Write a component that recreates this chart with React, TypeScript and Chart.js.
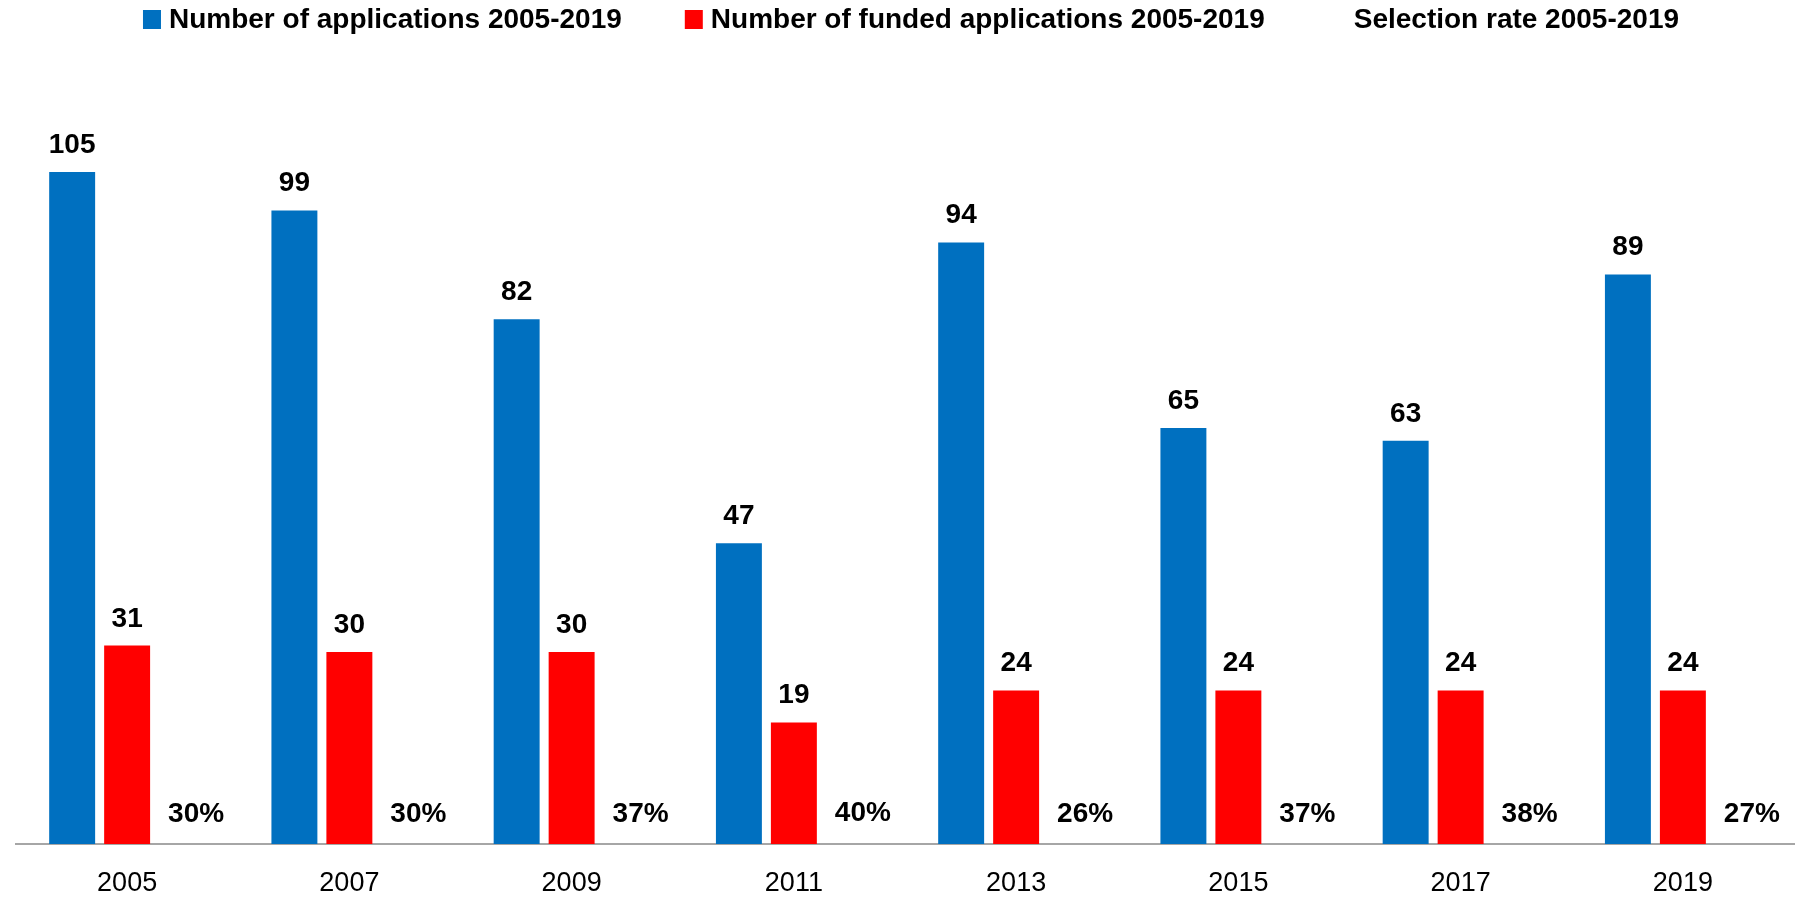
import React, { useEffect, useRef } from "react";
import { Chart, registerables } from "chart.js";

Chart.register(...registerables);

const categories = ["2005", "2007", "2009", "2011", "2013", "2015", "2017", "2019"];
const applications = [105, 99, 82, 47, 94, 65, 63, 89];
const funded = [31, 30, 30, 19, 24, 24, 24, 24];
const selectionRate = [0.3, 0.3, 0.37, 0.4, 0.26, 0.37, 0.38, 0.27];
const seriesNames = [
  "Number of applications 2005-2019",
  "Number of funded applications 2005-2019",
  "Selection rate 2005-2019",
];
const seriesColors = ["#0070C0", "#FF0000", "rgba(0,0,0,0)"];
const yMax = 120;

const FONT = '"Liberation Sans", Arial, sans-serif';

const valueLabels = {
  id: "valueLabels",
  afterDatasetsDraw(chart: any) {
    const ctx = chart.ctx;
    ctx.save();
    ctx.fillStyle = "#000";
    ctx.font = `bold 28px ${FONT}`;
    ctx.textAlign = "center";
    ctx.textBaseline = "alphabetic";
    chart.data.datasets.forEach((ds: any, di: number) => {
      const meta = chart.getDatasetMeta(di);
      meta.data.forEach((bar: any, i: number) => {
        const v = ds.data[i];
        if (di === 2) {
          ctx.fillText(Math.round(v * 100) + "%", bar.x + 14, bar.y - 20);
        } else {
          ctx.fillText(String(v), bar.x, bar.y - 19);
        }
      });
    });
    ctx.restore();
  },
};

const customLegend = {
  id: "customLegend",
  afterDraw(chart: any) {
    const ctx = chart.ctx;
    ctx.save();
    ctx.font = `bold 28px ${FONT}`;
    ctx.textBaseline = "alphabetic";
    ctx.textAlign = "left";
    const box = 18;
    const gapText = 8;
    const gapItem = 63;
    const items = chart.data.datasets.map((ds: any) => ({
      text: ds.label,
      color: ds.backgroundColor,
      w: ctx.measureText(ds.label).width,
    }));
    const total =
      items.reduce((s: number, it: any) => s + box + gapText + it.w, 0) +
      gapItem * (items.length - 1);
    let x = (chart.chartArea.left + chart.chartArea.right) / 2 + 6 - total / 2;
    items.forEach((it: any) => {
      ctx.fillStyle = it.color;
      ctx.fillRect(x, 10, box, 19);
      ctx.fillStyle = "#000";
      ctx.fillText(it.text, x + box + gapText, 28);
      x += box + gapText + it.w + gapItem;
    });
    ctx.restore();
  },
};

export default function App() {
  const ref = useRef<HTMLCanvasElement | null>(null);
  useEffect(() => {
    if (!ref.current) return;
    const chart = new Chart(ref.current, {
      type: "bar",
      data: {
        labels: categories,
        datasets: [
          { label: seriesNames[0], data: applications, backgroundColor: seriesColors[0], borderWidth: 0 },
          { label: seriesNames[1], data: funded, backgroundColor: seriesColors[1], borderWidth: 0 },
          { label: seriesNames[2], data: selectionRate, backgroundColor: seriesColors[2], borderWidth: 0 },
        ],
      },
      options: {
        animation: false,
        responsive: false,
        devicePixelRatio: 1,
        layout: { padding: { left: 16, right: 2, top: 76, bottom: -25 } },
        datasets: { bar: { categoryPercentage: 0.742, barPercentage: 0.836 } },
        plugins: {
          legend: { display: false },
          tooltip: { enabled: false },
        },
        scales: {
          x: {
            grid: { display: false, drawTicks: false },
            border: { display: true, color: "#A6A6A6", width: 2 },
            ticks: {
              color: "#000",
              padding: 26.5,
              font: { family: FONT, size: 27, lineHeight: 1 },
            },
          },
          y: {
            display: false,
            min: 0,
            max: yMax,
          },
        },
      },
      plugins: [valueLabels, customLegend],
    });
    return () => chart.destroy();
  }, []);
  return (
    <canvas
      ref={ref}
      width={1796}
      height={899}
      style={{ position: "fixed", left: 0, top: 0, display: "block" }}
    />
  );
}
